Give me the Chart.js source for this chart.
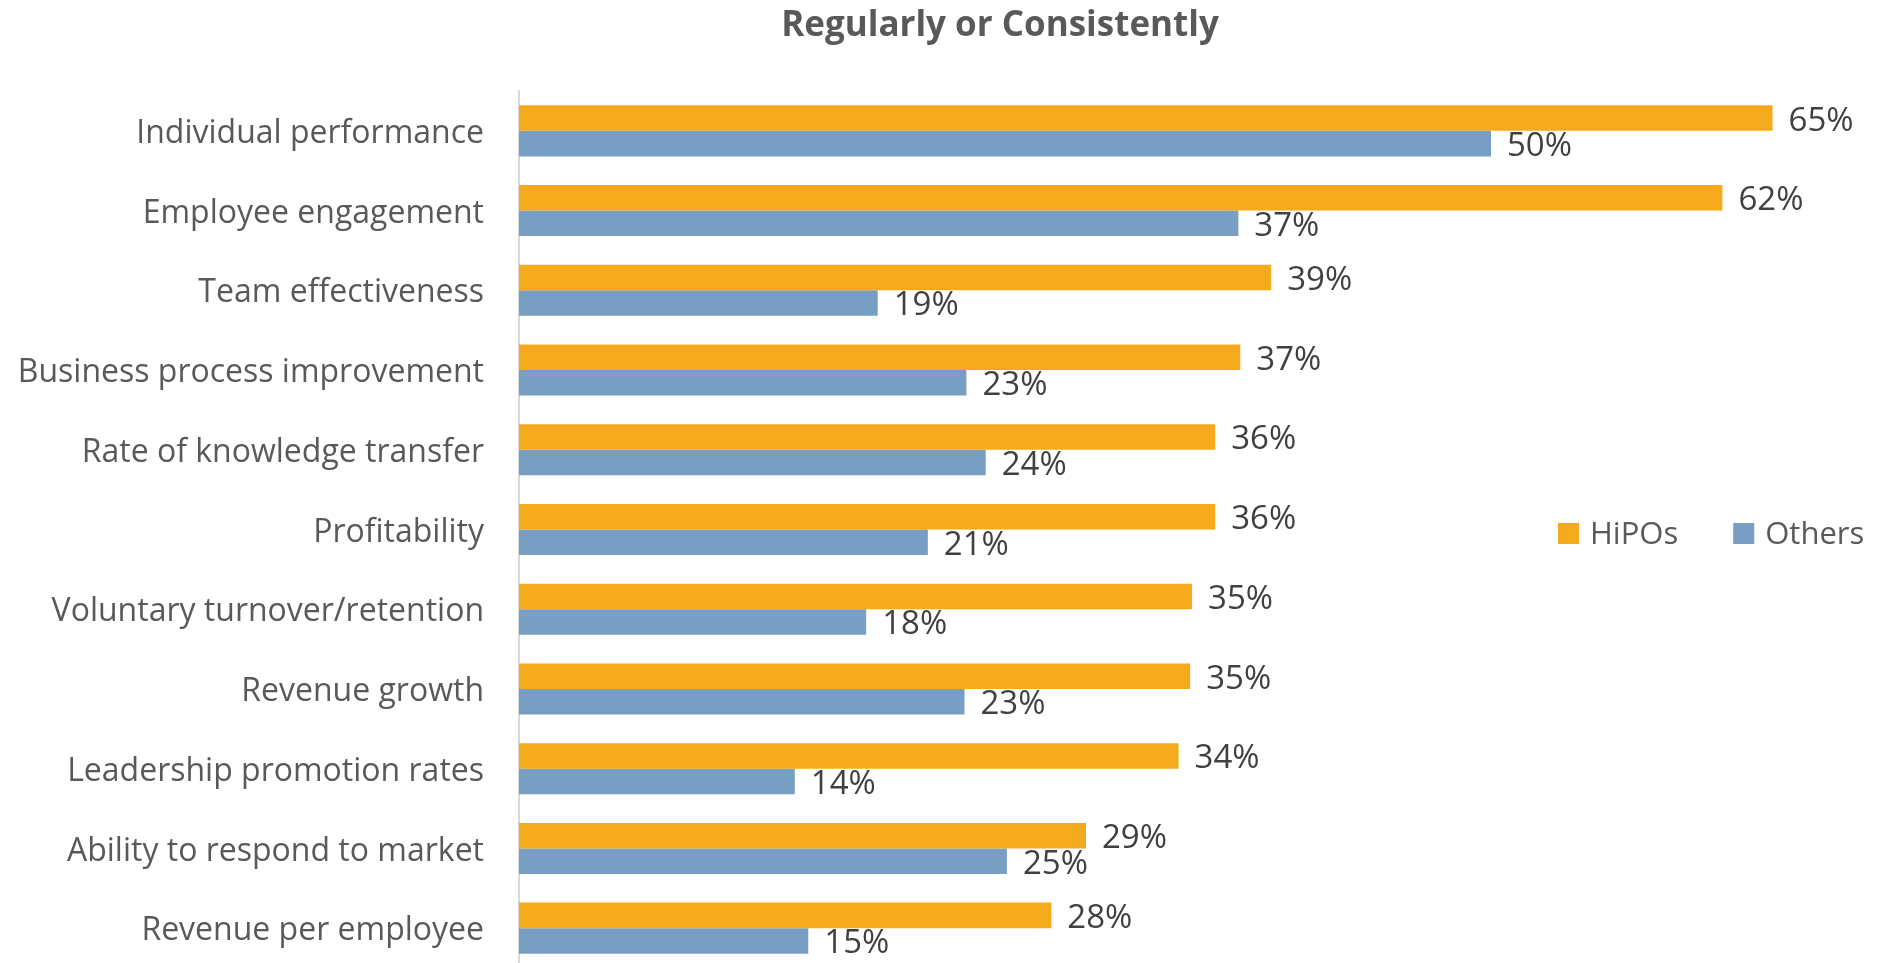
<!DOCTYPE html>
<html>
<head>
<meta charset="utf-8">
<script src="https://cdn.jsdelivr.net/npm/chart.js"></script>
<style>
  html,body{margin:0;padding:0;background:#fff;overflow:hidden}
  #wrap{position:relative;width:1878px;height:968px}
</style>
</head>
<body>
<div id="wrap"><canvas id="chart" width="1878" height="968"></canvas></div>
<script>
const TITLE = "Regularly or Consistently";
const CATEGORIES = [
  "Individual performance", "Employee engagement", "Team effectiveness",
  "Business process improvement", "Rate of knowledge transfer", "Profitability",
  "Voluntary turnover/retention", "Revenue growth", "Leadership promotion rates",
  "Ability to respond to market", "Revenue per employee",
];
const SERIES = ["HiPOs", "Others"];
const HIPOS  = [65.0, 62.4, 39.0, 37.4, 36.1, 36.1, 34.9, 34.8, 34.2, 29.4, 27.6];
const OTHERS = [50.4, 37.3, 18.6, 23.2, 24.2, 21.2, 18.0, 23.1, 14.3, 25.3, 15.0];

const ORANGE = "#F5AA1E", BLUE = "#789FC3";
const FONT = '"Open Sans", sans-serif';

// data labels, title and the inline legend are drawn here
const overlay = {
  id: "overlay",
  afterDatasetsDraw(chart) {
    const ctx = chart.ctx;
    ctx.save();
    ctx.font = `33px ${FONT}`;
    ctx.fillStyle = "#404040";
    ctx.textAlign = "left";
    ctx.textBaseline = "middle";
    chart.data.datasets.forEach((ds, i) => {
      chart.getDatasetMeta(i).data.forEach((bar, j) => {
        ctx.fillText(Math.round(ds.data[j]) + "%", bar.x + 16, bar.y + 3);
      });
    });

    ctx.font = `bold 35px ${FONT}`;
    ctx.fillStyle = "#595959";
    ctx.textAlign = "center";
    ctx.fillText(TITLE, 1000, 26);

    ctx.font = `31px ${FONT}`;
    ctx.textAlign = "left";
    let x = 1558;
    const y = 533;
    chart.data.datasets.forEach(ds => {
      ctx.fillStyle = ds.backgroundColor;
      ctx.fillRect(x, y - 10, 21, 21);
      ctx.fillStyle = "#595959";
      ctx.fillText(ds.label, x + 32, y + 2);
      x += 32 + ctx.measureText(ds.label).width + 55;
    });
    ctx.restore();
  }
};

new Chart(document.getElementById("chart"), {
  type: "bar",
  data: {
    labels: CATEGORIES,
    datasets: [
      { label: SERIES[0], data: HIPOS, backgroundColor: ORANGE },
      { label: SERIES[1], data: OTHERS, backgroundColor: BLUE },
    ]
  },
  options: {
    indexAxis: "y",
    responsive: false,
    animation: false,
    devicePixelRatio: 1,
    categoryPercentage: 0.64,
    barPercentage: 1.0,
    layout: { padding: { top: 91, right: 9, bottom: 0, left: 0 } },
    plugins: { legend: { display: false }, title: { display: false }, tooltip: { enabled: false } },
    scales: {
      x: { display: false, min: 0, max: 70 },
      y: {
        grid: { display: false },
        border: { display: true, color: "#D9D9D9", width: 2 },
        ticks: { color: "#595959", font: { family: FONT, size: 32 }, padding: 27, labelOffset: 3 },
        afterFit: s => { s.width = 519; s.paddingTop = 0; s.paddingBottom = 0; }
      }
    }
  },
  plugins: [overlay]
});
</script>
</body>
</html>
